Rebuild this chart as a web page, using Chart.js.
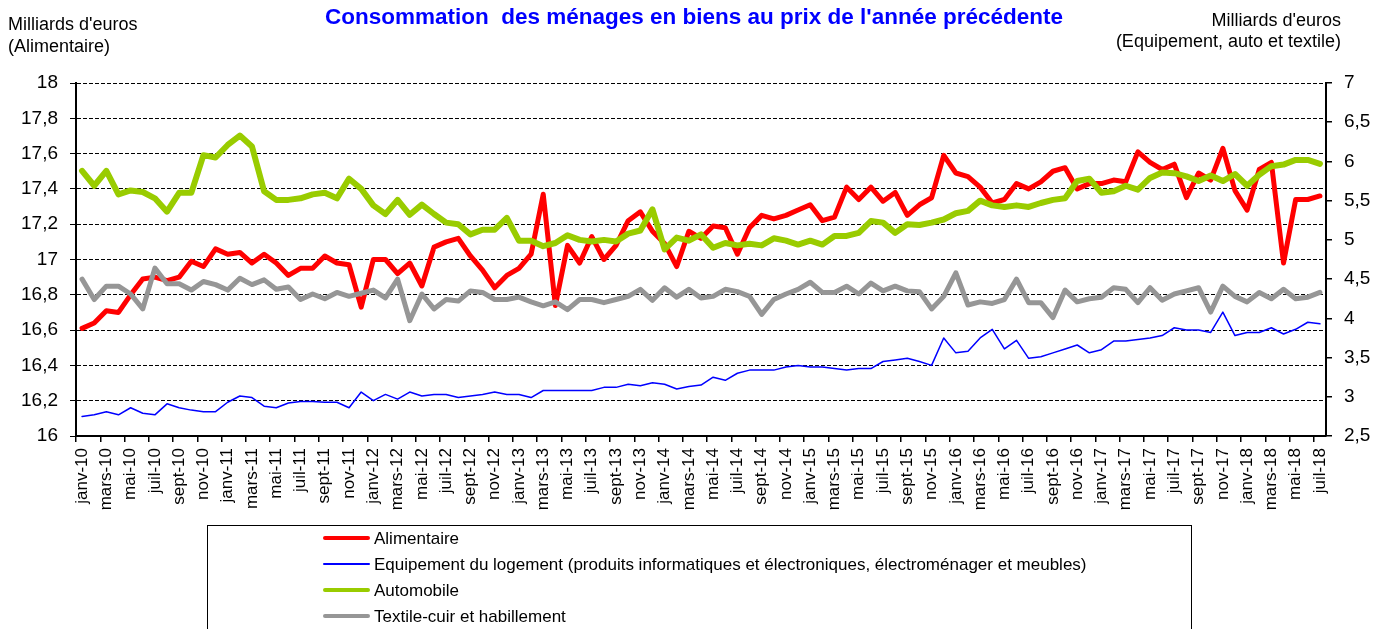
<!DOCTYPE html>
<html><head><meta charset="utf-8">
<script src="https://cdn.jsdelivr.net/npm/chart.js@4.4.1/dist/chart.umd.min.js"></script>
<style>
html,body{margin:0;padding:0;background:#fff;}
#wrap{position:relative;width:1388px;height:629px;overflow:hidden;font-family:"Liberation Sans",Arial,sans-serif;color:#000;}
canvas{position:absolute;left:0;top:0;}
.t{position:absolute;white-space:pre;}
#legend{position:absolute;left:207px;top:525px;width:985px;height:130px;border:1px solid #000;box-sizing:border-box;}
.row{position:absolute;left:0;height:26px;line-height:26px;font-size:17px;white-space:pre;}
.sw{position:absolute;left:115px;width:47px;border-radius:3px;}
.lt{position:absolute;left:166px;top:0;}
</style></head><body>
<div id="wrap">
<canvas id="c" width="1388" height="629"></canvas>
<div class="t" style="left:0;width:1388px;top:6px;text-align:center;font-weight:bold;font-size:22.5px;line-height:22px;color:#0000FF;">Consommation  des ménages en biens au prix de l'année précédente</div>
<div class="t" style="left:8px;top:13px;font-size:18px;line-height:22px;">Milliards d'euros
(Alimentaire)</div>
<div class="t" style="right:47px;top:10px;font-size:18px;line-height:21px;text-align:right;">Milliards d'euros
(Equipement, auto et textile)</div>
<div id="legend"></div>
</div>
<script>
const months = ['janv','févr','mars','avr','mai','juin','juil','août','sept','oct','nov','déc'];
const years = ['10','11','12','13','14','15','16','17','18'];
const lastMonthCount = 7; // janv..juil 2018

const leftTicks = {min: 16, max: 18, step: 0.2};
const rightTicks = {min: 2.5, max: 7, step: 0.5};

const alimentaire = [16.61,16.64,16.71,16.70,16.80,16.89,16.90,16.88,16.90,16.99,16.96,17.06,
17.03,17.04,16.98,17.03,16.98,16.91,16.95,16.95,17.02,16.98,16.97,16.73,
17.00,17.00,16.92,16.98,16.85,17.07,17.10,17.12,17.02,16.94,16.84,16.91,
16.95,17.03,17.37,16.74,17.08,16.98,17.13,17.00,17.08,17.22,17.27,17.16,
17.09,16.96,17.16,17.12,17.19,17.18,17.03,17.18,17.25,17.23,17.25,17.28,
17.31,17.22,17.24,17.41,17.34,17.41,17.33,17.38,17.25,17.31,17.35,17.59,
17.49,17.47,17.41,17.32,17.34,17.43,17.40,17.44,17.50,17.52,17.40,17.43,
17.43,17.45,17.44,17.61,17.55,17.51,17.54,17.35,17.49,17.45,17.63,17.39,
17.28,17.51,17.55,16.98,17.34,17.34,17.36];

const equipement = [2.75,2.77,2.81,2.77,2.86,2.79,2.77,2.91,2.86,2.83,2.81,2.81,
2.93,3.01,2.99,2.88,2.86,2.92,2.94,2.94,2.93,2.93,2.86,3.06,
2.95,3.03,2.97,3.06,3.01,3.03,3.03,2.99,3.01,3.03,3.06,3.03,
3.03,2.99,3.08,3.08,3.08,3.08,3.08,3.12,3.12,3.16,3.14,3.18,
3.16,3.10,3.13,3.15,3.25,3.21,3.30,3.34,3.34,3.34,3.38,3.40,
3.38,3.38,3.36,3.34,3.36,3.36,3.45,3.47,3.49,3.45,3.40,3.75,
3.56,3.58,3.75,3.86,3.61,3.72,3.49,3.51,3.56,3.61,3.66,3.56,
3.60,3.71,3.71,3.73,3.75,3.78,3.88,3.85,3.85,3.82,4.08,3.78,
3.82,3.82,3.88,3.80,3.86,3.95,3.93];

const automobile = [5.88,5.69,5.88,5.58,5.63,5.61,5.53,5.36,5.60,5.60,6.08,6.05,
6.21,6.33,6.19,5.62,5.51,5.51,5.53,5.58,5.60,5.53,5.78,5.65,
5.44,5.33,5.51,5.32,5.45,5.33,5.22,5.20,5.07,5.13,5.13,5.28,
4.99,4.99,4.92,4.96,5.06,5.00,4.98,5.00,4.98,5.08,5.12,5.39,
4.88,5.03,4.99,5.07,4.90,4.96,4.93,4.95,4.93,5.02,4.99,4.94,
4.99,4.94,5.05,5.05,5.09,5.24,5.22,5.09,5.20,5.19,5.22,5.26,
5.34,5.37,5.50,5.44,5.42,5.44,5.42,5.47,5.51,5.53,5.75,5.78,
5.60,5.62,5.69,5.64,5.79,5.86,5.85,5.81,5.75,5.82,5.75,5.84,
5.69,5.83,5.94,5.96,6.02,6.02,5.97];

const textile = [4.50,4.24,4.41,4.41,4.31,4.12,4.64,4.44,4.44,4.36,4.47,4.43,
4.36,4.51,4.43,4.49,4.37,4.40,4.24,4.31,4.25,4.33,4.28,4.32,
4.36,4.26,4.50,3.97,4.31,4.12,4.24,4.22,4.35,4.33,4.24,4.24,
4.27,4.21,4.16,4.21,4.11,4.24,4.24,4.20,4.24,4.28,4.37,4.23,
4.39,4.27,4.37,4.26,4.28,4.37,4.34,4.28,4.05,4.24,4.31,4.37,
4.46,4.33,4.33,4.41,4.31,4.45,4.35,4.41,4.35,4.34,4.12,4.28,
4.58,4.17,4.21,4.19,4.24,4.50,4.20,4.20,4.01,4.36,4.21,4.25,
4.27,4.39,4.37,4.20,4.39,4.23,4.31,4.35,4.39,4.08,4.41,4.28,
4.21,4.33,4.25,4.37,4.25,4.27,4.33];

const seriesNames = ['Alimentaire',
 'Equipement du logement (produits informatiques et électroniques, électroménager et meubles)',
 'Automobile',
 'Textile-cuir et habillement'];
const seriesColors = ['#FF0000','#0000FF','#99CC00','#969696'];

const categories = [];
years.forEach((y, yi) => {
  const n = (yi === years.length - 1) ? lastMonthCount : 12;
  for (let m = 0; m < n; m++) categories.push(months[m] + '-' + y);
});

const FONT = '"Liberation Sans", Arial, sans-serif';
const fmt = v => String(Number(v.toFixed(1))).replace('.', ',');

const widths = [5, 1.5, 6, 5];
const dataArr = [alimentaire, equipement, automobile, textile];
const axisIds = ['y', 'y1', 'y1', 'y1'];
const orders = [4, 3, 2, 1];

const datasets = dataArr.map((d, k) => ({
  label: seriesNames[k], data: d, yAxisID: axisIds[k],
  borderColor: seriesColors[k], backgroundColor: seriesColors[k],
  borderWidth: widths[k], pointRadius: 0, pointHoverRadius: 0, tension: 0,
  fill: false, borderJoinStyle: 'round', borderCapStyle: 'round', order: orders[k]
}));

new Chart(document.getElementById('c'), {
  type: 'line',
  data: { labels: categories, datasets },
  options: {
    responsive: false, animation: false, devicePixelRatio: 1,
    layout: { padding: { top: 83, bottom: 103, left: 0, right: 0 } },
    plugins: { legend: { display: false }, tooltip: { enabled: false }, title: { display: false } },
    scales: {
      x: {
        type: 'category', offset: true,
        grid: { offset: true, drawOnChartArea: false, drawTicks: true, tickLength: 6, lineWidth: 1.5,
          color: ctx => (ctx.index !== undefined && ctx.index % 2 === 0) ? '#000' : 'rgba(0,0,0,0)' },
        border: { display: true, color: '#000', width: 2 },
        ticks: { autoSkip: false, maxRotation: 90, minRotation: 90, padding: 6, color: '#000',
          font: { family: FONT, size: 17 },
          callback: function (v, i) { return i % 2 === 0 ? this.getLabelForValue(v) : ''; } },
        afterFit: s => { s.height = 90; }
      },
      y: {
        position: 'left', min: leftTicks.min, max: leftTicks.max,
        ticks: { stepSize: leftTicks.step, color: '#000', padding: 12, font: { family: FONT, size: 19 }, callback: v => fmt(v) },
        grid: { color: '#000', lineWidth: 1, tickLength: 6, drawTicks: true },
        border: { display: true, color: '#000', width: 2, dash: [4, 2] },
        afterFit: s => { s.width = 76; }
      },
      y1: {
        position: 'right', min: rightTicks.min, max: rightTicks.max,
        ticks: { stepSize: rightTicks.step, color: '#000', padding: 12, font: { family: FONT, size: 19 }, callback: v => fmt(v) },
        grid: { drawOnChartArea: false, color: '#000', lineWidth: 1.5, tickLength: 6 },
        border: { display: true, color: '#000', width: 2 },
        afterFit: s => { s.width = 62; }
      }
    }
  }
});

// HTML legend built from the series definitions
const leg = document.getElementById('legend');
seriesNames.forEach((name, k) => {
  const row = document.createElement('div');
  row.className = 'row';
  row.style.top = (k * 26) + 'px';
  row.style.width = '100%';
  const sw = document.createElement('div');
  sw.className = 'sw';
  const h = k === 1 ? 1.5 : 4.5;
  sw.style.height = h + 'px';
  sw.style.top = (12 - h / 2) + 'px';
  sw.style.background = seriesColors[k];
  const tx = document.createElement('div');
  tx.className = 'lt';
  tx.textContent = name;
  row.appendChild(sw); row.appendChild(tx);
  leg.appendChild(row);
});
</script>
</body></html>
